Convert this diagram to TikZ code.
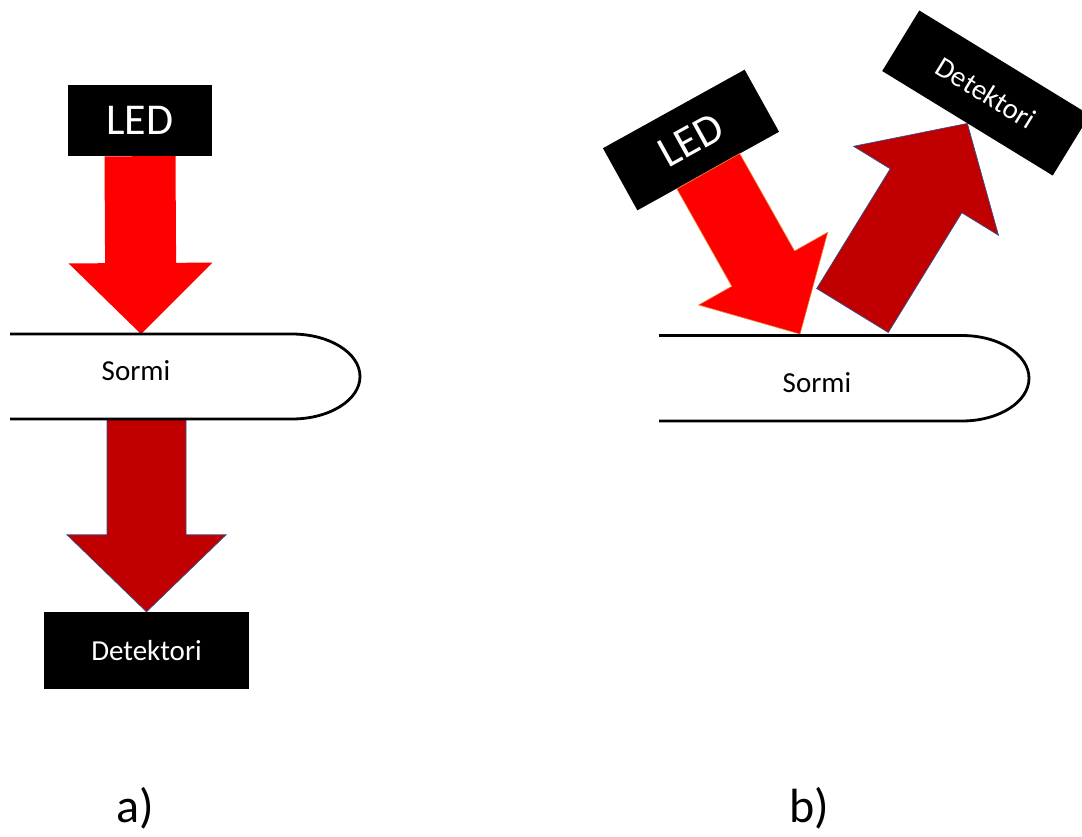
\documentclass[tikz,border=0pt]{standalone}
\usepackage{fontspec}
\setmainfont{Carlito}
\usetikzlibrary{calc}

\definecolor{beamred}{HTML}{FF0000}
\definecolor{returnred}{HTML}{C00000}
\definecolor{edgeblue}{HTML}{2F528F}
\definecolor{edgeorange}{HTML}{ED7D31}

% Block arrow from #2 to the tip #3:
% #1 style, #4 shaft half width, #5 head half width, #6 head length
\newcommand\blockarrow[6]{%
  \coordinate (ba-hb) at ($(#3)!#6!(#2)$);
  \path[#1] ($(#2)!#4!90:(#3)$) -- ($(ba-hb)!#4!-90:(#2)$)
     -- ($(ba-hb)!#5!-90:(#2)$) -- (#3) -- ($(ba-hb)!#5!90:(#2)$)
     -- ($(ba-hb)!#4!90:(#2)$) -- ($(#2)!#4!-90:(#3)$) -- cycle;
}

\tikzset{
  blackbox/.style={fill=black, text=white, inner sep=0pt, minimum height=71pt},
  bigtext/.style={font=\fontsize{44}{50}\selectfont},
  smalltext/.style={font=\fontsize{29}{34}\selectfont},
  tube/.style={line width=2.8pt, line cap=butt},
  beamin/.style={fill=beamred},
  beamout/.style={fill=returnred, draw=edgeblue, line width=0.7pt, line join=miter},
  captionlabel/.style={font=\fontsize{48}{54}\selectfont, anchor=base}
}

\begin{document}
\begin{tikzpicture}[x=1pt, y=-1pt]
  \fill[white] (0,0) rectangle (1082,836);
  \useasboundingbox (0,0) rectangle (1082,836);

  % ---------- a) transmission ----------
  \node[blackbox, bigtext, minimum width=144pt] (ledA) at (140,120.5) {LED};
  \node[blackbox, smalltext, minimum width=205pt, minimum height=77pt] (detA) at (146.5,650.5) {Detektori};
  \coordinate (hitA) at (141,334);
  \coordinate (exitA) at (146.5,419);

  \blockarrow{beamin}{ledA.south}{hitA}{35.5pt}{72pt}{71pt}
  \blockarrow{beamout}{exitA}{detA.north}{39.5pt}{79.5pt}{77pt}

  \draw[tube] (10,334) -- (292,334)
    arc[start angle=90, end angle=-90, x radius=68pt, y radius=42.5pt] -- (10,419);
  \node[smalltext] (sormiA) at (136,371) {Sormi};

  % ---------- b) reflection ----------
  \node[blackbox, bigtext, minimum width=162pt, rotate=29] (ledB) at (691,140) {LED};
  \node[blackbox, smalltext, minimum width=200pt, rotate=-31.5] (detB) at (986,93) {Detektori};
  \coordinate (hitB) at (800,334);
  \coordinate (exitB) at (852.5,310.5);

  \blockarrow{beamin, draw=edgeorange, line width=0.6pt, line join=miter}{ledB.south}{hitB}{36pt}{74pt}{75pt}
  \blockarrow{beamout}{exitB}{detB.south}{42pt}{85pt}{79pt}

  \draw[tube] (659,335.5) -- (962,335.5)
    arc[start angle=90, end angle=-90, x radius=67pt, y radius=42.75pt] -- (659,421);
  \node[smalltext] (sormiB) at (817,383) {Sormi};

  % ---------- captions ----------
  \node[captionlabel] (capA) at (135,822) {a)};
  \node[captionlabel] (capB) at (809,822) {b)};
\end{tikzpicture}
\end{document}
